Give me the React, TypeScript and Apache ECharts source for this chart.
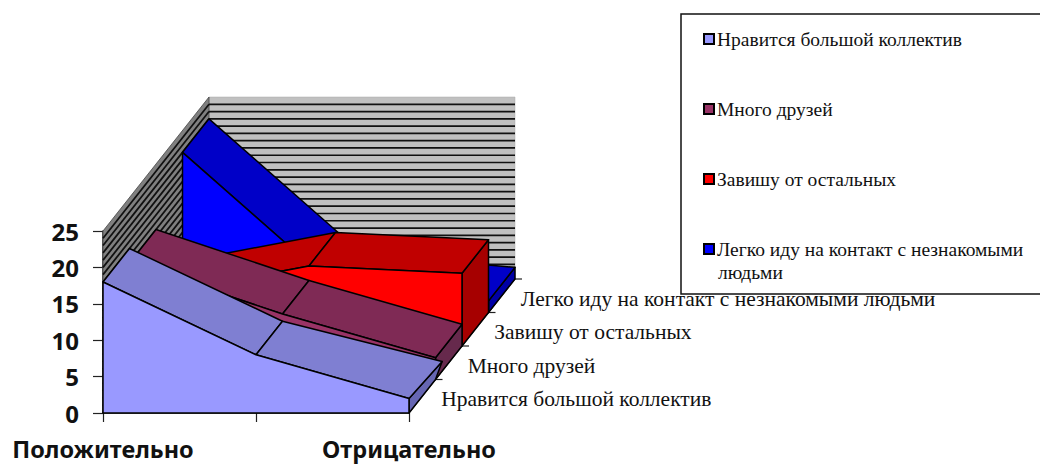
import React, { useEffect, useRef } from "react";
import * as echarts from "echarts";

const categories = ["Положительно", "", "Отрицательно"];
const seriesNames = [
  "Нравится большой коллектив",
  "Много друзей",
  "Завишу от остальных",
  "Легко иду на контакт с незнакомыми людьми",
];
const likeBigGroup = [18, 8, 2];
const manyFriends = [16, 9, 3];
const dependOnOthers = [7, 11, 10];
const easyContact = [22, 3.5, 1.6];
const yTicks = { min: 0, max: 25, interval: 5 };

const FRONT = ["#9999FF", "#993366", "#FF0000", "#0000FF"];
const TOP = ["#7F7FD2", "#7F2A55", "#C00000", "#0000C8"];
const SIDE = ["#6666B3", "#66294C", "#A60000", "#0000A6"];
const DEPTH_X = 106;
const DEPTH_Y = 134;
const FLARE_X = [1.25, 1, 1, 1];
const FLARE_Y = [1.1, 1, 1, 1];
const LINE = "#000";
const SERIF = "'Liberation Serif', serif";
const SANS = "'Noto Sans', sans-serif";

function pr(api: any, cat: number, val: number, d: number) {
  const p = api.coord([cat, val]);
  return [p[0] + DEPTH_X * d, p[1] - DEPTH_Y * d];
}

function poly(points: number[][], fill: string, stroke = LINE, lineWidth = 1.5) {
  return { type: "polygon", shape: { points }, style: { fill, stroke, lineWidth, lineJoin: "round" } };
}

function areaSeries(idx: number, values: number[]) {
  const d0 = idx / 4;
  const d1 = (idx + 1) / 4;
  const last = values.length - 1;
  return {
    type: "custom",
    name: seriesNames[idx],
    coordinateSystem: "cartesian2d",
    itemStyle: { color: FRONT[idx] },
    data: values.map((v, i) => [i, v]),
    renderItem: (params: any, api: any) => {
      if (params.dataIndex !== 0) return null;
      const children: any[] = [];
      const frontEnd = pr(api, last, values[last], d0);
      const backEnd = pr(api, last, values[last], d1);
      const flared = [
        frontEnd[0] + (backEnd[0] - frontEnd[0]) * FLARE_X[idx],
        frontEnd[1] + (backEnd[1] - frontEnd[1]) * FLARE_Y[idx],
      ];
      children.push(poly([frontEnd, flared, pr(api, last, 0, d1), pr(api, last, 0, d0)], SIDE[idx]));
      for (let i = 0; i < last; i++) {
        children.push(
          poly(
            [
              pr(api, i, values[i], d0),
              pr(api, i + 1, values[i + 1], d0),
              i + 1 === last ? flared : pr(api, i + 1, values[i + 1], d1),
              pr(api, i, values[i], d1),
            ],
            TOP[idx]
          )
        );
      }
      const front = values.map((v, i) => pr(api, i, v, d0));
      front.push(pr(api, last, 0, d0), pr(api, 0, 0, d0));
      children.push(poly(front, FRONT[idx]));
      return { type: "group", children };
    },
  };
}

const wallSeries = {
  type: "custom",
  name: "walls",
  coordinateSystem: "cartesian2d",
  silent: true,
  data: [[0, 0]],
  renderItem: (_: any, api: any) => {
    const last = categories.length - 1;
    const children: any[] = [];
    children.push(poly([pr(api, 0, 0, 1), pr(api, 0, yTicks.max, 1), pr(api, last, yTicks.max, 1), pr(api, last, 0, 1)], "#C0C0C0", "#aaa", 0.5));
    children.push(poly([pr(api, 0, 0, 0), pr(api, 0, yTicks.max, 0), pr(api, 0, yTicks.max, 1), pr(api, 0, 0, 1)], "#808080", "#444", 0.8));
    for (let v = yTicks.min; v < yTicks.max; v++) {
      const a = pr(api, 0, v, 1);
      const b = pr(api, last, v, 1);
      const c = pr(api, 0, v, 0);
      children.push({ type: "line", shape: { x1: a[0], y1: a[1], x2: b[0], y2: b[1] }, style: { stroke: "#111", lineWidth: 1.7 } });
      children.push({ type: "line", shape: { x1: c[0], y1: c[1], x2: a[0], y2: a[1] }, style: { stroke: "#111", lineWidth: 1.8 } });
    }
    const f = pr(api, last, 0, 0);
    const e = pr(api, last, 0, 1);
    children.push({ type: "line", shape: { x1: f[0], y1: f[1], x2: e[0], y2: e[1] }, style: { stroke: "#222", lineWidth: 1.2 } });
    for (let k = 1; k <= 4; k++) {
      const t = pr(api, last, 0, k / 4);
      children.push({ type: "line", shape: { x1: t[0], y1: t[1], x2: t[0] + 7, y2: t[1] }, style: { stroke: "#222", lineWidth: 1.2 } });
    }
    return { type: "group", children };
  },
};

const labelSeries = {
  type: "custom",
  name: "depthLabels",
  coordinateSystem: "cartesian2d",
  silent: true,
  z: 5,
  data: [[0, 0]],
  renderItem: (_: any, api: any) => {
    const last = categories.length - 1;
    return {
      type: "group",
      children: seriesNames.map((name, k) => {
        const p = pr(api, last, 0, (k + 0.5) / 4);
        return {
          type: "text",
          style: {
            x: p[0] + 19,
            y: p[1] + 3,
            text: name,
            fill: "#111",
            font: `21.5px ${SERIF}`,
            textAlign: "left",
            textVerticalAlign: "middle",
          },
        };
      }),
    };
  },
};

export default function App() {
  const ref = useRef<HTMLDivElement>(null);
  useEffect(() => {
    document.body.style.margin = "0";
    const chart = echarts.init(ref.current!, undefined, { renderer: "svg" });
    chart.setOption({
      animation: false,
      backgroundColor: "#fff",
      grid: { left: 103, right: 631, top: 231, bottom: 51 },
      xAxis: {
        type: "category",
        data: categories,
        boundaryGap: false,
        axisLine: { lineStyle: { color: "#222", width: 1.5 } },
        axisTick: { show: true, length: 9, interval: 0, lineStyle: { color: "#222", width: 1.2 } },
        axisLabel: { interval: 0, margin: 26, lineHeight: 20, color: "#111", fontFamily: SANS, fontWeight: "bold", fontSize: 23.5, showMinLabel: true, showMaxLabel: true },
        splitLine: { show: false },
      },
      yAxis: {
        type: "value",
        min: yTicks.min,
        max: yTicks.max,
        interval: yTicks.interval,
        axisLine: { show: true, lineStyle: { color: "#222", width: 1.5 } },
        axisTick: { show: true, length: 10, lineStyle: { color: "#222", width: 1.2 } },
        axisLabel: { margin: 24, color: "#111", fontFamily: SANS, fontWeight: "bold", fontSize: 24 },
        splitLine: { show: false },
      },
      legend: {
        left: 681,
        top: 14,
        orient: "vertical",
        data: seriesNames,
        icon: "rect",
        itemWidth: 10,
        itemHeight: 10,
        itemGap: 50,
        padding: [15, 20, 35, 22],
        borderColor: "#111",
        borderWidth: 1.5,
        backgroundColor: "#fff",
        selectedMode: false,
        itemStyle: { borderColor: "#000", borderWidth: 2 },
        textStyle: { fontFamily: SERIF, fontSize: 19.5, color: "#111", lineHeight: 20, padding: [0, 0, 0, -2] },
        formatter: (n: string) => n.replace(" людьми", ""),
      },
      graphic: [
        {
          type: "text",
          x: 718,
          y: 272,
          z: 10,
          style: { text: "людьми", font: `19.5px ${SERIF}`, fill: "#111", textVerticalAlign: "middle" },
        },
      ],
      series: [
        wallSeries,
        areaSeries(3, easyContact),
        areaSeries(2, dependOnOthers),
        areaSeries(1, manyFriends),
        areaSeries(0, likeBigGroup),
        labelSeries,
      ],
    });
    return () => chart.dispose();
  }, []);
  return <div ref={ref} style={{ position: "absolute", left: 0, top: 0, width: 1040, height: 464 }} />;
}
